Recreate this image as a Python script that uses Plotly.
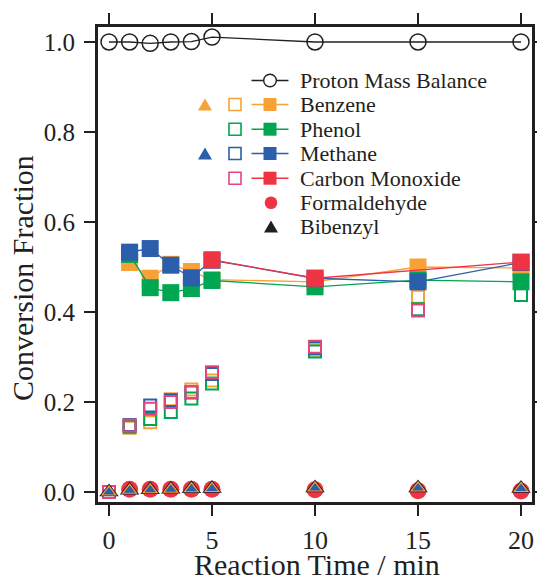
import plotly.graph_objects as go

# ---------------- data ----------------
time = [0, 1, 2, 3, 4, 5, 10, 15, 20]
time_nz = [1, 2, 3, 4, 5, 10, 15, 20]

proton_balance = [1.000, 1.000, 0.997, 1.000, 1.001, 1.011, 1.000, 1.000, 1.000]

# filled squares with lines
benzene_line = [0.510, 0.475, 0.506, 0.490, 0.472, 0.467, 0.500, 0.498]
phenol_line = [0.528, 0.454, 0.443, 0.452, 0.470, 0.456, 0.471, 0.467]
methane_line = [0.533, 0.541, 0.504, 0.476, 0.515, 0.475, 0.467, 0.510]
co_line = [None, None, None, None, 0.516, 0.475, None, 0.511]

# open squares
benzene_open = [0.0, 0.143, 0.155, 0.206, 0.228, 0.248, 0.316, 0.434, 0.49]
phenol_open = [0.0, 0.145, 0.162, 0.178, 0.208, 0.241, 0.312, 0.406, 0.438]
methane_open = [0.0, 0.149, 0.192, 0.204, 0.221, 0.262, 0.320, 0.404, 0.49]
co_open = [0.0, 0.148, 0.185, 0.200, 0.222, 0.266, 0.323, 0.404, 0.49]

# near-zero products
formaldehyde = [0.006, 0.006, 0.006, 0.006, 0.006, 0.005, 0.003, 0.002]
bibenzyl = [0.0, 0.004, 0.005, 0.006, 0.007, 0.008, 0.009, 0.009, 0.008]
benzene_tri = [0.0, 0.004, 0.005, 0.006, 0.007, 0.008, 0.009, 0.009, 0.008]
methane_tri = [0.0, 0.004, 0.005, 0.006, 0.007, 0.008, 0.009, 0.009, 0.008]

x_ticks = [0, 5, 10, 15, 20]
y_ticks = [0.0, 0.2, 0.4, 0.6, 0.8, 1.0]
y_tick_labels = ["0.0", "0.2", "0.4", "0.6", "0.8", "1.0"]

legend_labels = ["Proton Mass Balance", "Benzene", "Phenol", "Methane",
                 "Carbon Monoxide", "Formaldehyde", "Bibenzyl"]

# ---------------- styles ----------------
ORANGE = "#F8A136"
GREEN = "#00A651"
BLUE = "#2B5EAB"
RED = "#EE3342"
PINK = "#E3467C"
BLACK = "#231F20"
FONT = "Liberation Serif, Times New Roman, serif"

W, H = 537, 577
L, R, T, B = 98, 532, 27, 502          # plot box, in pixels
X_RANGE = [-0.534, 20.534]
Y_RANGE = [-0.0222, 1.0333]

fig = go.Figure()

# open squares
for vals, col in [(benzene_open, ORANGE), (phenol_open, GREEN),
                  (methane_open, BLUE), (co_open, PINK)]:
    fig.add_trace(go.Scatter(
        x=time, y=vals, mode="markers", showlegend=False,
        marker=dict(symbol="square-open", size=12, color=col,
                    line=dict(width=2, color=col))))

# proton mass balance
fig.add_trace(go.Scatter(
    x=time, y=proton_balance, mode="lines+markers", showlegend=False,
    line=dict(color=BLACK, width=1.3),
    marker=dict(symbol="circle-open", size=16, color=BLACK,
                line=dict(width=1.5, color=BLACK))))

# filled squares with lines
for vals, col in [(benzene_line, ORANGE), (phenol_line, GREEN),
                  (methane_line, BLUE), (co_line, RED)]:
    fig.add_trace(go.Scatter(
        x=time_nz, y=vals, mode="lines+markers", showlegend=False,
        connectgaps=True,
        line=dict(color=col, width=1.3),
        marker=dict(symbol="square", size=17, color=col)))

# formaldehyde
fig.add_trace(go.Scatter(
    x=time_nz, y=formaldehyde, mode="markers", showlegend=False,
    marker=dict(symbol="circle", size=17, color=RED)))

# bibenzyl and triangles
fig.add_trace(go.Scatter(
    x=time, y=bibenzyl, mode="markers", showlegend=False,
    marker=dict(symbol="triangle-up", size=17, color=BLACK)))
fig.add_trace(go.Scatter(
    x=time, y=benzene_tri, mode="markers", showlegend=False,
    marker=dict(symbol="triangle-up", size=14, color=ORANGE)))
fig.add_trace(go.Scatter(
    x=time, y=methane_tri, mode="markers", showlegend=False,
    marker=dict(symbol="triangle-up", size=10, color=BLUE)))

# ---------- custom legend (decoration in paper coordinates) ----------
def px(x):
    return (x - L) / (R - L)
def py(y):
    return (B - y) / (B - T)

shapes = []
annotations = []

def open_sq(cx, cy, col, s=6):
    shapes.append(dict(type="rect", xref="paper", yref="paper",
                       x0=px(cx - s), x1=px(cx + s), y0=py(cy + s), y1=py(cy - s),
                       line=dict(color=col, width=1.6)))
def fill_sq(cx, cy, col, s=6.5):
    shapes.append(dict(type="rect", xref="paper", yref="paper",
                       x0=px(cx - s), x1=px(cx + s), y0=py(cy + s), y1=py(cy - s),
                       fillcolor=col, line=dict(color=col, width=0)))
def tri(cx, cy, col, s=7):
    path = "M {} {} L {} {} L {} {} Z".format(
        px(cx - s), py(cy + s * 0.85), px(cx + s), py(cy + s * 0.85),
        px(cx), py(cy - s * 0.85))
    shapes.append(dict(type="path", xref="paper", yref="paper", path=path,
                       fillcolor=col, line=dict(color=col, width=0)))
def circ(cx, cy, col, s=6.3):
    shapes.append(dict(type="circle", xref="paper", yref="paper",
                       x0=px(cx - s), x1=px(cx + s), y0=py(cy + s), y1=py(cy - s),
                       fillcolor=col, line=dict(color=col, width=0)))
def seg(cy, col):
    shapes.append(dict(type="line", xref="paper", yref="paper",
                       x0=px(251.5), x1=px(288.5), y0=py(cy), y1=py(cy),
                       line=dict(color=col, width=1.5)))

rows = [80.5, 104.5, 129.2, 153.5, 178.2, 202.7, 226.5]
seg(rows[0], BLACK)
shapes.append(dict(type="circle", xref="paper", yref="paper",
                   x0=px(270 - 6.3), x1=px(270 + 6.3), y0=py(rows[0] + 6.3),
                   y1=py(rows[0] - 6.3), fillcolor="white",
                   line=dict(color=BLACK, width=1.4)))
for r, col in zip(rows[1:5], [ORANGE, GREEN, BLUE, RED]):
    seg(r, col)
    fill_sq(270, r, col)
tri(205, rows[1], ORANGE)
open_sq(235, rows[1], ORANGE)
open_sq(235, rows[2], GREEN)
tri(205, rows[3], BLUE)
open_sq(235, rows[3], BLUE)
open_sq(235, rows[4], PINK)
circ(271, rows[5], RED)
tri(271, rows[6], BLACK)

for r, lab in zip(rows, legend_labels):
    annotations.append(dict(xref="paper", yref="paper", x=px(297.5), y=py(r),
                            xanchor="left", yanchor="middle", text=lab,
                            showarrow=False,
                            font=dict(size=22, family=FONT, color=BLACK)))

# axis titles
annotations.append(dict(xref="paper", yref="paper", x=px(316.5), y=py(564),
                        xanchor="center", yanchor="middle",
                        text="Reaction Time / min", showarrow=False,
                        font=dict(size=30, family=FONT, color=BLACK)))
annotations.append(dict(xref="paper", yref="paper", x=px(22), y=py(278),
                        xanchor="center", yanchor="middle", textangle=-90,
                        text="Conversion Fraction", showarrow=False,
                        font=dict(size=30, family=FONT, color=BLACK)))

fig.update_layout(
    width=W, height=H,
    margin=dict(l=L, r=W - R, t=T, b=H - B, pad=0),
    paper_bgcolor="white", plot_bgcolor="white",
    font=dict(family=FONT, color=BLACK, size=20),
    shapes=shapes, annotations=annotations, showlegend=False,
    xaxis=dict(range=X_RANGE, tickvals=x_ticks, ticks="outside", ticklen=11,
               tickwidth=2.5, tickcolor=BLACK, showline=True, linewidth=3,
               linecolor=BLACK, mirror="ticks", showgrid=False, zeroline=False,
               automargin=False, ticklabelstandoff=2,
               tickfont=dict(size=26, family=FONT, color=BLACK)),
    yaxis=dict(range=Y_RANGE, tickvals=y_ticks, ticktext=y_tick_labels,
               ticks="outside", ticklen=11, tickwidth=2.5, tickcolor=BLACK,
               showline=True, linewidth=3, linecolor=BLACK, mirror="ticks",
               showgrid=False, zeroline=False, automargin=False,
               ticklabelstandoff=4,
               tickfont=dict(size=25, family=FONT, color=BLACK)),
)

fig.write_html("out.html",
               config={"displayModeBar": False, "staticPlot": True},
               post_script="document.body.style.margin='0';"
                           "document.body.style.overflow='hidden';")
